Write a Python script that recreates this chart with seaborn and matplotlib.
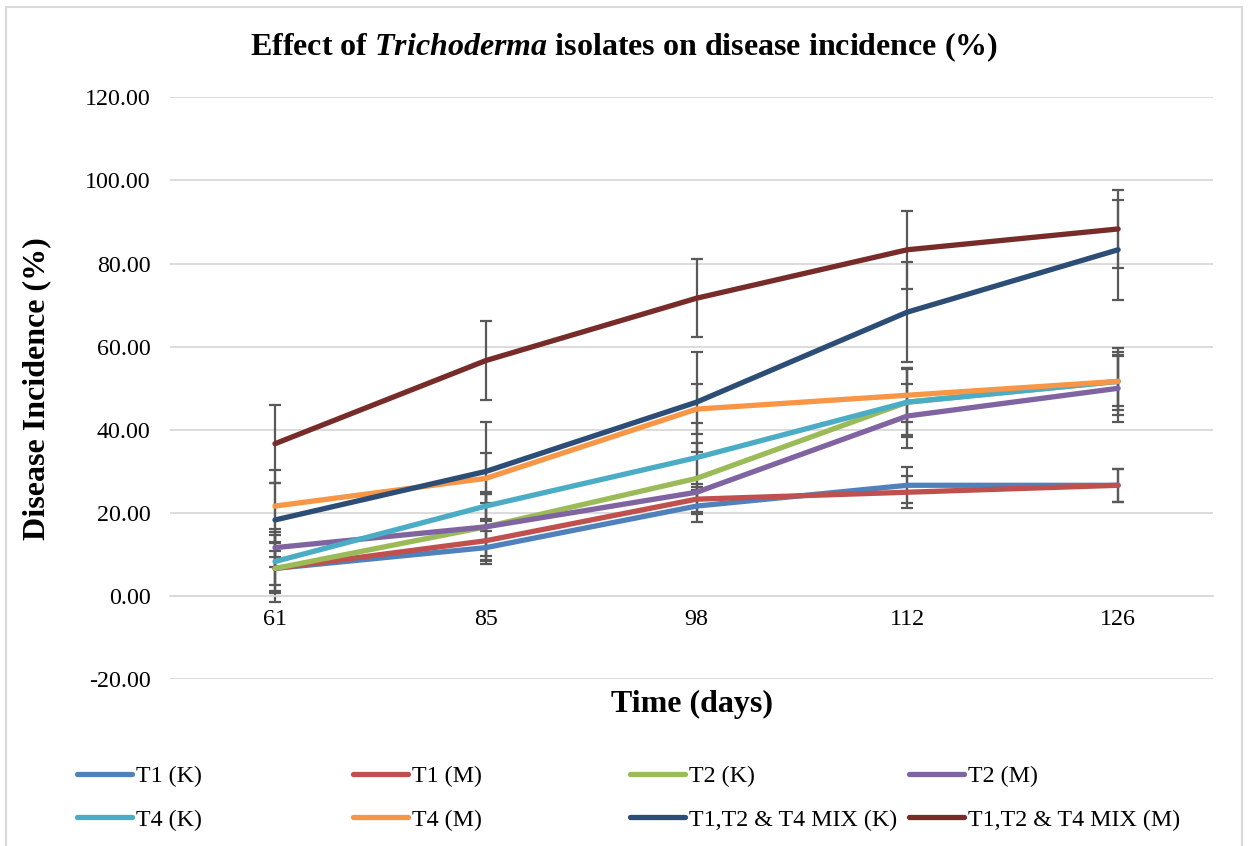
import numpy as np
import pandas as pd
import seaborn as sns
import matplotlib
matplotlib.use("Agg")
import matplotlib.pyplot as plt
from matplotlib.lines import Line2D
from matplotlib.patches import Rectangle

# ---------------- data ----------------
days = ["61", "85", "98", "112", "126"]
series_names = ["T1 (K)", "T1 (M)", "T2 (K)", "T2 (M)",
                "T4 (K)", "T4 (M)", "T1,T2 & T4 MIX (K)", "T1,T2 & T4 MIX (M)"]

t1_k = [6.67, 11.67, 21.67, 26.67, 26.67]
t1_m = [6.67, 13.33, 23.33, 25.00, 26.67]
t2_k = [6.67, 16.67, 28.33, 46.67, 51.67]
t2_m = [11.67, 16.67, 25.00, 43.33, 50.00]
t4_k = [8.33, 21.67, 33.33, 46.67, 51.67]
t4_m = [21.67, 28.33, 45.00, 48.33, 51.67]
mix_k = [18.33, 30.00, 46.67, 68.33, 83.33]
mix_m = [36.67, 56.67, 71.67, 83.33, 88.33]

t1_k_err = [4.1, 4.0, 3.9, 4.3, 4.0]
t1_m_err = [8.0, 3.6, 3.0, 3.8, 4.0]
t2_k_err = [6.0, 8.3, 8.5, 8.0, 6.0]
t2_m_err = [4.6, 7.9, 1.9, 7.7, 8.0]
t4_k_err = [7.0, 3.0, 8.3, 8.3, 7.0]
t4_m_err = [8.6, 6.0, 6.0, 6.5, 8.0]
mix_k_err = [9.0, 12.0, 12.0, 12.0, 12.0]
mix_m_err = [9.4, 9.4, 9.4, 9.4, 9.4]

values = [t1_k, t1_m, t2_k, t2_m, t4_k, t4_m, mix_k, mix_m]
errors = [t1_k_err, t1_m_err, t2_k_err, t2_m_err, t4_k_err, t4_m_err, mix_k_err, mix_m_err]

colors = ["#4F81BD", "#C0504D", "#9BBB59", "#8064A2",
          "#4BACC6", "#F79646", "#2C4D75", "#772C2A"]
palette = dict(zip(series_names, colors))

rows = []
for name, vals, errs in zip(series_names, values, errors):
    for i, (d, v, e) in enumerate(zip(days, vals, errs)):
        rows.append({"series": name, "day": d, "pos": i, "value": v, "err": e})
df = pd.DataFrame(rows)

# ---------------- style ----------------
sns.set_style("white")
plt.rcParams["font.family"] = ["Liberation Serif", "DejaVu Serif"]
plt.rcParams["text.color"] = "black"
plt.rcParams["xtick.color"] = "black"
plt.rcParams["ytick.color"] = "black"
plt.rcParams["mathtext.fontset"] = "custom"
plt.rcParams["mathtext.it"] = "Liberation Serif:italic:bold"
plt.rcParams["mathtext.rm"] = "Liberation Serif:bold"
plt.rcParams["mathtext.bf"] = "Liberation Serif:bold"

W, H = 1249, 846
fig = plt.figure(figsize=(W / 100, H / 100), dpi=100)
ax = fig.add_axes([170 / W, 1 - 679.3 / H, (1213 - 170) / W, (679.3 - 97.3) / H])

grid_c = "#D9D9D9"
ax.set_ylim(-20, 120)
ax.set_yticks(np.arange(-20, 121, 20))
ax.set_yticklabels([f"{v:.2f}" for v in np.arange(-20, 121, 20)])
ax.set_xlim(-0.498, 4.45)
ax.set_xticks(range(len(days)))
ax.set_xticklabels(days)
ax.yaxis.grid(True, color=grid_c, linewidth=1.3)
ax.xaxis.grid(False)
ax.set_axisbelow(True)
for s in ["left", "right", "top"]:
    ax.spines[s].set_visible(False)
ax.spines["bottom"].set_position(("data", 0))
ax.spines["bottom"].set_color(grid_c)
ax.spines["bottom"].set_linewidth(1.3)
ax.tick_params(axis="both", length=0, labelsize=17.3, colors="black",
               labelcolor="black")
ax.tick_params(axis="y", pad=14)
ax.tick_params(axis="x", pad=9)

# error bars (behind lines)
for name, grp in df.groupby("series", sort=False):
    ax.errorbar(grp["pos"], grp["value"], yerr=grp["err"], fmt="none",
                ecolor="#595959", elinewidth=1.6, capsize=4.3, capthick=1.6, zorder=2)

sns.lineplot(data=df, x="pos", y="value", hue="series", hue_order=series_names,
             palette=palette, linewidth=3.8, sort=False, legend=False, ax=ax,
             zorder=3)
for ln in ax.get_lines():
    ln.set_solid_capstyle("round")
    ln.set_solid_joinstyle("round")

ax.set_xlabel("")
ax.set_ylabel("")

fig.text(692 / W, 1 - 704 / H, "Time (days)", ha="center", va="center",
         fontsize=23, fontweight="bold", color="black")
fig.text(37 / W, 1 - 389 / H, "Disease Incidence (%)", ha="center", va="center",
         rotation=90, fontsize=23, fontweight="bold", color="black")
fig.text(624 / W, 1 - 47 / H,
         r"Effect of $\mathit{Trichoderma}$ isolates on disease incidence (%)",
         ha="center", va="center", fontsize=23, fontweight="bold", color="black")

# outer border
fig.patches.append(Rectangle((6 / W, -0.05), (1241.5 - 6) / W, 1 - 7 / H + 0.05,
                             transform=fig.transFigure, fill=False,
                             edgecolor=grid_c, linewidth=1.5))

# legend: 4 columns with equal pitch
col_x = [77, 353, 630, 909]
for c in range(4):
    idx = [c, c + 4]
    handles = [Line2D([0], [0], color=colors[i], linewidth=3.8,
                      solid_capstyle="round") for i in idx]
    labels = [series_names[i] for i in idx]
    leg = fig.legend(handles, labels, loc="upper left",
                     bbox_to_anchor=(col_x[c] / W, 1 - 765.5 / H),
                     bbox_transform=fig.transFigure, frameon=False,
                     borderpad=0, borderaxespad=0, handlelength=2.3,
                     handletextpad=0.15, labelspacing=0.9,
                     prop={"family": "Liberation Serif", "size": 17.3})
    for t in leg.get_texts():
        t.set_color("black")

fig.savefig("out.png", dpi=100)
